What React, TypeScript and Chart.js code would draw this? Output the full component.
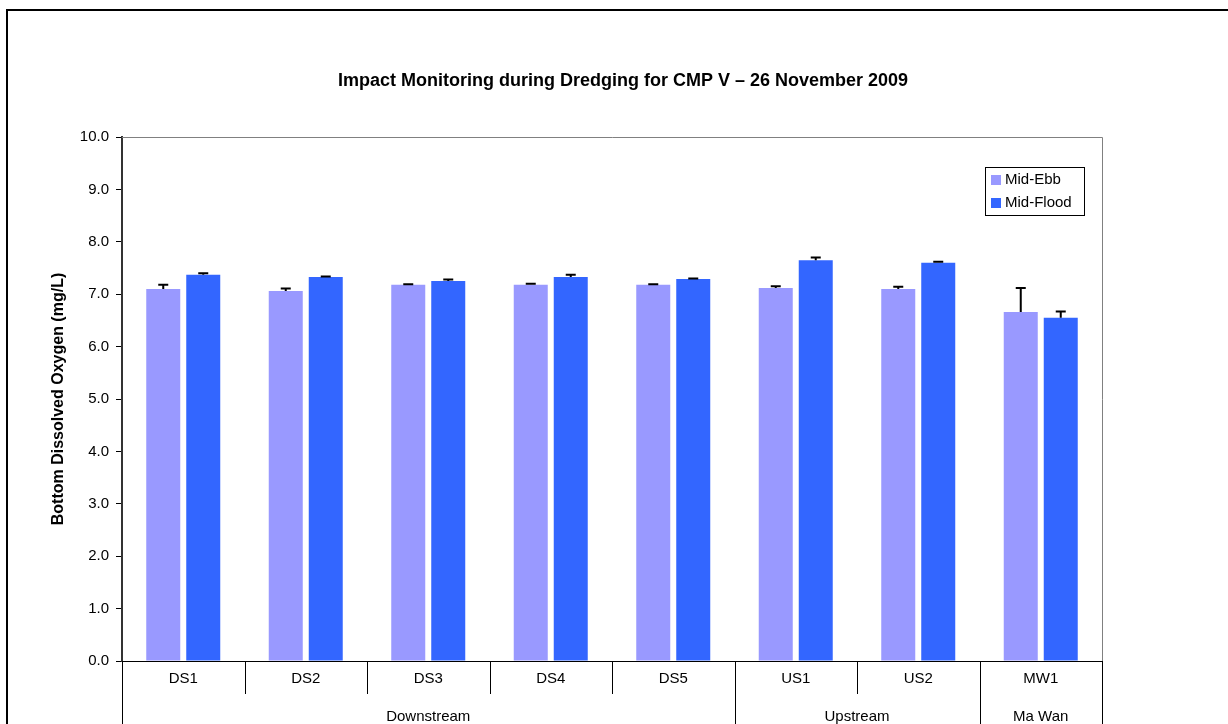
import React, { useEffect, useRef } from "react";
import { Chart, registerables } from "chart.js";

Chart.register(...registerables);

const categories = ["DS1", "DS2", "DS3", "DS4", "DS5", "US1", "US2", "MW1"];
const groupLabels = ["Downstream", "Upstream", "Ma Wan"];
const groupSpans = [5, 2, 1];
const midEbb = [7.1, 7.06, 7.18, 7.18, 7.18, 7.12, 7.1, 6.66];
const midEbbErr = [0.08, 0.05, 0.01, 0.02, 0.01, 0.03, 0.04, 0.46];
const midFlood = [7.37, 7.33, 7.25, 7.33, 7.29, 7.65, 7.6, 6.55];
const midFloodErr = [0.03, 0.01, 0.03, 0.04, 0.01, 0.05, 0.02, 0.12];
const seriesNames = ["Mid-Ebb", "Mid-Flood"];
const seriesColors = ["#9999FF", "#3366FF"];
const titleText = "Impact Monitoring during Dredging for CMP V \u2013 26 November 2009";
const yTitle = "Bottom Dissolved Oxygen (mg/L)";

const FONT = "'Liberation Sans', Arial, sans-serif";

const decorPlugin = {
  id: "decor",
  afterDatasetsDraw(chart: any) {
    const ctx = chart.ctx;
    const y = chart.scales.y;
    const errs = [midEbbErr, midFloodErr];
    ctx.save();
    ctx.strokeStyle = "#000";
    ctx.lineWidth = 2;
    chart.data.datasets.forEach((ds: any, di: number) => {
      const meta = chart.getDatasetMeta(di);
      meta.data.forEach((bar: any, i: number) => {
        const top = y.getPixelForValue(ds.data[i] + errs[di][i]);
        ctx.beginPath();
        ctx.moveTo(bar.x, bar.y);
        ctx.lineTo(bar.x, top);
        ctx.moveTo(bar.x - 5, top);
        ctx.lineTo(bar.x + 5, top);
        ctx.stroke();
      });
    });
    ctx.restore();
  },
  afterDraw(chart: any) {
    const ctx = chart.ctx;
    const { left, right, top, bottom } = chart.chartArea;
    const x = chart.scales.x;
    const H = chart.height;
    ctx.save();
    ctx.strokeStyle = "#808080";
    ctx.lineWidth = 1;
    ctx.beginPath();
    ctx.moveTo(left, top + 0.5);
    ctx.lineTo(right + 0.5, top + 0.5);
    ctx.lineTo(right + 0.5, bottom);
    ctx.stroke();
    ctx.strokeStyle = "#000";
    ctx.beginPath();
    ctx.moveTo(left, bottom + 0.5);
    ctx.lineTo(right + 1, bottom + 0.5);
    ctx.stroke();
    const n = categories.length;
    const edge = (i: number) => {
      if (i <= 0) return left;
      if (i >= n) return right;
      return (x.getPixelForValue(i - 1) + x.getPixelForValue(i)) / 2;
    };
    ctx.beginPath();
    for (let i = 1; i < n; i++) {
      const px = Math.round(edge(i)) + 0.5;
      ctx.moveTo(px, bottom);
      ctx.lineTo(px, bottom + 33);
    }
    ctx.stroke();
    let idx = 0;
    const bounds = [0];
    groupSpans.forEach((s) => {
      idx += s;
      bounds.push(idx);
    });
    ctx.beginPath();
    bounds.forEach((b) => {
      const px = Math.round(edge(b)) + 0.5;
      ctx.moveTo(px, bottom);
      ctx.lineTo(px, H);
    });
    ctx.stroke();
    ctx.fillStyle = "#000";
    ctx.font = `15px ${FONT}`;
    ctx.textAlign = "center";
    ctx.textBaseline = "middle";
    groupLabels.forEach((g, gi) => {
      const cx = (edge(bounds[gi]) + edge(bounds[gi + 1])) / 2;
      ctx.fillText(g, cx, bottom + 56);
    });
    ctx.font = `bold 18px ${FONT}`;
    ctx.fillText(titleText, (left + right) / 2 + 11, 81);
    const lw = 99, lh = 48;
    const lx = right - 18 - lw;
    const ly = top + 30;
    ctx.fillStyle = "#fff";
    ctx.fillRect(lx, ly, lw, lh);
    ctx.strokeStyle = "#000";
    ctx.strokeRect(lx + 0.5, ly + 0.5, lw, lh);
    ctx.textAlign = "left";
    ctx.font = `15px ${FONT}`;
    seriesNames.forEach((name, i) => {
      const cy = ly + 13 + i * 23;
      ctx.fillStyle = seriesColors[i];
      ctx.fillRect(lx + 6, cy - 5, 10, 10);
      ctx.fillStyle = "#000";
      ctx.fillText(name, lx + 20, cy);
    });
    ctx.restore();
  },
};

export default function App() {
  const ref = useRef<HTMLCanvasElement>(null);
  useEffect(() => {
    if (!ref.current) return;
    const chart = new Chart(ref.current, {
      type: "bar",
      data: {
        labels: categories,
        datasets: [
          {
            label: seriesNames[0],
            data: midEbb,
            backgroundColor: seriesColors[0],
            categoryPercentage: 0.653,
            barPercentage: 0.85,
          },
          {
            label: seriesNames[1],
            data: midFlood,
            backgroundColor: seriesColors[1],
            categoryPercentage: 0.653,
            barPercentage: 0.85,
          },
        ],
      },
      options: {
        responsive: false,
        animation: false,
        layout: { padding: { left: 40, right: 138, top: 137, bottom: 0 } },
        plugins: {
          legend: { display: false },
          title: { display: false },
          tooltip: { enabled: false },
        },
        scales: {
          x: {
            grid: { display: false, drawTicks: false },
            border: { display: false },
            ticks: {
              autoSkip: false,
              maxRotation: 0,
              padding: 9,
              color: "#000",
              font: { family: FONT, size: 15 },
            },
            afterFit: (s: any) => {
              s.height = 79;
            },
          },
          y: {
            min: 0,
            max: 10,
            grid: {
              drawOnChartArea: false,
              drawTicks: true,
              tickLength: 6,
              color: "#000",
            },
            border: { display: true, color: "#333", width: 2 },
            ticks: {
              stepSize: 1,
              padding: 7,
              color: "#000",
              font: { family: FONT, size: 15 },
              callback: (v: any) => Number(v).toFixed(1),
            },
            title: {
              display: true,
              text: yTitle,
              color: "#000",
              font: { family: FONT, size: 16, weight: "bold" },
              padding: { top: 9, bottom: 0 },
            },
            afterFit: (s: any) => {
              s.width = 82;
            },
          },
        },
      },
      plugins: [decorPlugin],
    });
    return () => chart.destroy();
  }, []);
  return (
    <div
      style={{
        position: "fixed",
        left: 0,
        top: 0,
        width: 1228,
        height: 724,
        overflow: "hidden",
        background: "#fff",
      }}
    >
      <canvas
        ref={ref}
        width={1240}
        height={740}
        style={{ position: "absolute", left: 0, top: 0 }}
      />
      <div
        style={{
          position: "absolute",
          left: 6,
          top: 9,
          width: 1300,
          height: 800,
          border: "2px solid #000",
          pointerEvents: "none",
        }}
      />
    </div>
  );
}
